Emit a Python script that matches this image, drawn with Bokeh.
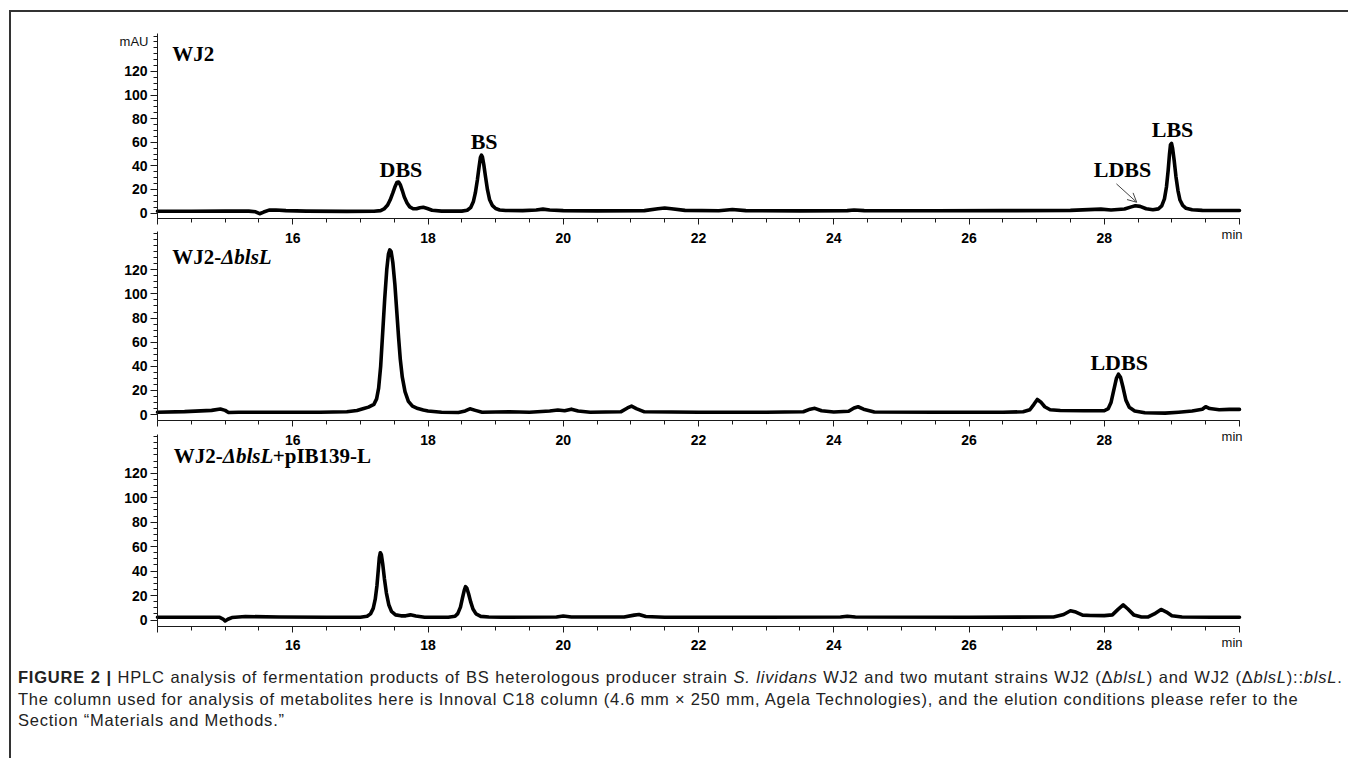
from bokeh.plotting import figure
from bokeh.models import Range1d, LinearAxis, FixedTicker, Label, Arrow, OpenHead, Div, ColumnDataSource
from bokeh.layouts import column
from bokeh.embed import file_html
from bokeh.resources import INLINE

# ---------------- data (time in min, signal in mAU) -------------
wj2_t = [14.00, 14.50, 15.00, 15.35, 15.45, 15.51, 15.57, 15.65, 15.75, 15.90, 16.20, 16.80, 17.20,
         17.30, 17.35, 17.40, 17.44, 17.48, 17.51, 17.54, 17.565, 17.59, 17.62,
         17.65, 17.69, 17.73, 17.78, 17.83, 17.88, 17.93, 17.99, 18.06, 18.20,
         18.50, 18.58, 18.63, 18.67, 18.70, 18.73, 18.755, 18.775, 18.79, 18.805,
         18.825, 18.85, 18.88, 18.91, 18.95, 19.00, 19.06, 19.15,
         19.40, 19.60, 19.70, 19.80, 20.00, 20.50, 21.20, 21.40, 21.50, 21.60,
         21.80, 22.30, 22.50, 22.70, 23.50, 24.20, 24.30, 24.45, 25.50, 26.50,
         27.50, 27.95, 28.10, 28.30, 28.40, 28.46, 28.53, 28.62, 28.72, 28.80,
         28.85, 28.89, 28.92, 28.945, 28.965, 28.98, 28.995, 29.01, 29.035, 29.06,
         29.09, 29.12, 29.16, 29.21, 29.30, 29.45, 30.00]
wj2_mau = [1.5, 1.5, 1.6, 1.6, 1.0, -0.6, 0.8, 2.4, 2.6, 2.0, 1.6, 1.4, 1.5,
           2.0, 3.4, 6.5, 11.0, 17.0, 22.0, 25.8, 26.3, 24.0, 19.0,
           13.5, 8.5, 5.2, 3.6, 3.6, 4.5, 4.9, 3.8, 2.3, 1.6,
           1.6, 2.3, 4.5, 9.5, 17.0, 28.0, 39.0, 47.0, 49.0, 47.5,
           41.0, 31.0, 19.5, 11.5, 6.5, 3.8, 2.6, 2.1,
           2.0, 2.5, 3.3, 2.6, 2.0, 1.8, 2.0, 3.6, 4.3, 3.6,
           2.2, 1.9, 2.9, 2.0, 1.8, 2.0, 2.6, 2.0, 1.9, 2.0,
           2.2, 3.3, 2.6, 3.4, 5.2, 6.2, 5.6, 3.6, 2.7, 3.5,
           6.0, 12.0, 22.0, 36.0, 50.0, 58.0, 59.0, 55.0, 44.0, 31.0,
           19.0, 11.0, 6.5, 4.0, 2.7, 2.2, 2.1]

dbl_t = [14.00, 14.40, 14.80, 14.93, 15.00, 15.05, 15.20, 15.80, 16.40, 16.80, 16.95, 17.05,
         17.12, 17.20, 17.24, 17.27, 17.30, 17.33, 17.36, 17.39, 17.415, 17.435, 17.455, 17.48,
         17.51, 17.54, 17.565, 17.59, 17.62, 17.66, 17.71, 17.77, 17.85, 17.93, 18.00, 18.20,
         18.45, 18.55, 18.62, 18.70, 18.80, 19.20, 19.50, 19.80, 19.92, 20.02, 20.12, 20.22,
         20.40, 20.85, 20.95, 21.01, 21.08, 21.20, 22.00, 23.00, 23.55, 23.65, 23.72, 23.82,
         24.00, 24.22, 24.30, 24.36, 24.44, 24.60, 25.50, 26.50, 26.80, 26.90, 26.96, 27.01,
         27.06, 27.12, 27.20, 27.35, 27.70, 28.00, 28.06, 28.10, 28.14, 28.18, 28.21, 28.24,
         28.28, 28.32, 28.37, 28.45, 28.60, 28.90, 29.10, 29.30, 29.45, 29.50, 29.56, 29.70,
         29.85, 30.00]
dbl_mau = [2.0, 2.5, 3.5, 4.6, 3.5, 1.8, 2.0, 2.0, 2.0, 2.3, 3.4, 5.0,
           6.2, 8.5, 13.0, 22.0, 40.0, 68.0, 96.0, 120.0, 133.0, 136.5, 135.0, 126.0,
           108.0, 84.0, 64.0, 46.0, 31.0, 19.0, 11.0, 7.0, 5.0, 3.8, 3.0, 2.0,
           1.8, 3.0, 4.8, 3.5, 2.0, 2.3, 2.0, 3.0, 3.8, 3.2, 4.5, 3.0,
           2.0, 2.3, 5.5, 7.0, 5.0, 2.3, 2.0, 2.0, 2.4, 4.5, 5.2, 3.2,
           2.2, 2.8, 5.5, 6.5, 4.5, 2.2, 2.0, 2.0, 2.3, 4.0, 8.5, 12.5,
           10.5, 6.5, 4.0, 3.4, 3.2, 3.2, 5.0, 10.0, 20.0, 30.0, 33.5, 31.0,
           22.0, 12.0, 6.0, 3.0, 1.5, 1.2, 2.0, 3.0, 4.5, 6.5, 5.0, 4.0,
           4.3, 4.3]

comp_t = [14.00, 14.60, 14.92, 14.97, 15.00, 15.04, 15.10, 15.30, 15.80, 16.50, 17.00,
          17.10, 17.15, 17.19, 17.22, 17.245, 17.265, 17.28, 17.295, 17.31, 17.33,
          17.355, 17.385, 17.42, 17.46, 17.52, 17.60,
          17.67, 17.74, 17.82, 17.95, 18.30,
          18.40, 18.44, 18.48, 18.51, 18.535, 18.555, 18.575, 18.60, 18.63, 18.665, 18.71, 18.78,
          18.90, 19.10, 19.90, 20.00, 20.12, 20.90, 21.05, 21.12, 21.22, 21.50,
          23.00, 24.10, 24.20, 24.32, 26.00, 27.25, 27.40, 27.50, 27.58, 27.68,
          27.80, 28.00, 28.12, 28.20, 28.28, 28.35, 28.44, 28.55, 28.65, 28.74,
          28.84, 28.92, 29.00, 29.15, 29.60, 30.00]
comp_mau = [2.3, 2.3, 2.2, 0.8, -0.8, 0.6, 2.0, 2.8, 2.5, 2.3, 2.3,
            3.0, 5.0, 9.5, 17.0, 28.0, 41.0, 51.0, 55.0, 53.5, 46.0,
            34.0, 22.0, 12.5, 7.0, 4.2, 3.4,
            3.4, 4.2, 3.2, 2.3, 2.2,
            3.0, 5.2, 10.5, 18.0, 24.0, 27.3, 26.0, 21.5, 15.0, 9.0, 5.0, 3.0,
            2.5, 2.2, 2.4, 3.2, 2.4, 2.4, 4.0, 4.5, 2.8, 2.2,
            2.3, 2.4, 3.0, 2.4, 2.3, 2.4, 4.5, 7.6, 6.5, 4.0,
            3.7, 3.6, 4.2, 8.5, 12.4, 9.0, 4.0, 2.4, 2.5, 5.0,
            8.6, 6.5, 3.5, 2.4, 2.2, 2.3]

x_major_ticks = [14, 16, 18, 20, 22, 24, 26, 28, 30]
x_tick_labels = {14: "", 16: "16", 18: "18", 20: "20", 22: "22", 24: "24", 26: "26", 28: "28", 30: ""}
y_major_ticks = [0, 20, 40, 60, 80, 100, 120]

# peak annotations: (text, time, mAU)
wj2_peaks = [("DBS", 17.60, 37.1), ("BS", 18.83, 60.6), ("LDBS", 28.27, 36.9), ("LBS", 29.01, 71.0)]
dbl_peaks = [("LDBS", 28.22, 43.5)]

# ---------------- geometry (page pixels) ----------------
W, H = 1336, 650
PAGE_X0, PAGE_Y0 = 11, 12
X14_PX, X30_PX = 157, 1239
ppm = (X30_PX - X14_PX) / 16.0
x_start = 14 - (X14_PX - PAGE_X0) / ppm
x_end = 30 + (PAGE_X0 + W - X30_PX) / ppm

panels = [
    dict(name="p1", t=wj2_t, v=wj2_mau, zero=212.5, scale=1.18,
         label=[("WJ2", "bold", 0)], label_xy=(14.217, 134.4), peaks=wj2_peaks, mau=True),
    dict(name="p2", t=dbl_t, v=dbl_mau, zero=414.1, scale=1.207,
         label=[("WJ2-", "bold", 0), ("\u0394blsL", "bold italic", 49)], label_xy=(14.217, 130.7),
         peaks=dbl_peaks, mau=False),
    dict(name="p3", t=comp_t, v=comp_mau, zero=619.5, scale=1.223,
         label=[("WJ2-", "bold", 0), ("\u0394blsL", "bold italic", 49), ("+pIB139-L", "bold", 99)],
         label_xy=(14.24, 133.7), peaks=[], mau=False),
]

def yr(pn):
    s = pn["scale"]
    return Range1d(-(PAGE_Y0 + H - pn["zero"]) / s, (pn["zero"] - PAGE_Y0) / s)

p = figure(width=W, height=H, x_range=Range1d(x_start, x_end), y_range=yr(panels[2]),
           output_backend="svg", toolbar_location=None, title=None,
           x_axis_type=None, y_axis_type=None, min_border=0,
           min_border_left=0, min_border_right=0, min_border_top=0, min_border_bottom=0)
p.outline_line_color = None
p.grid.visible = False
p.background_fill_color = "white"
p.border_fill_color = "white"
p.extra_y_ranges = {"p1": yr(panels[0]), "p2": yr(panels[1])}

SERIF = "Liberation Serif"
SANS = "Liberation Sans"
AX = "#1a1a1a"

for pn in panels:
    rn = pn["name"] if pn["name"] != "p3" else "default"
    src = ColumnDataSource(dict(t=pn["t"], v=pn["v"]))
    p.line("t", "v", source=src, y_range_name=rn, line_color="black", line_width=3.6,
           line_join="round", line_cap="round")

    ya = LinearAxis(y_range_name=rn, fixed_location=14, bounds=(-5, 152),
                    ticker=FixedTicker(ticks=y_major_ticks, minor_ticks=list(range(0, 151, 5))))
    ya.axis_line_color = AX
    ya.major_tick_line_color = AX
    ya.minor_tick_line_color = AX
    ya.major_tick_out, ya.major_tick_in = 7, 0
    ya.minor_tick_out, ya.minor_tick_in = 4, 0
    ya.major_label_standoff = 3
    ya.major_label_text_font = SANS
    ya.major_label_text_font_style = "bold"
    ya.major_label_text_font_size = "14px"
    ya.major_label_text_color = "black"
    p.add_layout(ya, "left")

    xa = LinearAxis(y_range_name=rn, fixed_location=-5, bounds=(14, 30),
                    ticker=FixedTicker(ticks=x_major_ticks,
                                       minor_ticks=[14 + 0.5 * i for i in range(33)]),
                    major_label_overrides=x_tick_labels)
    xa.axis_line_color = AX
    xa.major_tick_line_color = AX
    xa.minor_tick_line_color = AX
    xa.major_tick_out, xa.major_tick_in = 6, 0
    xa.minor_tick_out, xa.minor_tick_in = 4, 0
    xa.major_label_standoff = 8
    xa.major_label_text_font = SANS
    xa.major_label_text_font_style = "bold"
    xa.major_label_text_font_size = "14px"
    xa.major_label_text_color = "black"
    p.add_layout(xa, "below")

    p.add_layout(Label(x=29.89, y=-18, y_range_name=rn, text="min", text_font=SANS,
                       text_font_size="13px", text_align="center", text_baseline="middle",
                       text_color="#111"))

    lx, ly = pn["label_xy"]
    for txt, style, off in pn["label"]:
        p.add_layout(Label(x=lx, y=ly, x_offset=off, y_range_name=rn, text=txt, text_font=SERIF,
                           text_font_style=style, text_font_size="21px", text_color="black",
                           text_align="left", text_baseline="alphabetic"))
    for txt, tx, ty in pn["peaks"]:
        p.add_layout(Label(x=tx, y=ty, y_range_name=rn, text=txt, text_font=SERIF,
                           text_font_style="bold", text_font_size="22px", text_color="black",
                           text_align="center", text_baseline="alphabetic"))
    if pn["mau"]:
        p.add_layout(Label(x=14, y=145, x_offset=-9, y_range_name=rn, text="mAU", text_font=SANS,
                           text_font_size="13px", text_align="right", text_baseline="middle",
                           text_color="#111"))
        p.add_layout(Arrow(x_start=28.18, y_start=24.7, x_end=28.48, y_end=9.1, y_range_name=rn,
                           line_color="#444", line_width=1,
                           end=OpenHead(size=9, line_color="#444", line_width=1)))

caption = (
    '<div style="font-family: \'Liberation Sans\', sans-serif; '
    'font-size: 16.5px; letter-spacing: 0.77px; line-height: 21.5px; color: #222; '
    'padding-left: 2px; padding-top: 0px; white-space: nowrap;">'
    '<span style="word-spacing: 0.4px;"><b>FIGURE 2 |</b> HPLC analysis of fermentation products '
    'of BS heterologous producer strain '
    '<i>S. lividans</i> WJ2 and two mutant strains WJ2 (\u0394<i>blsL</i>) and WJ2 '
    '(\u0394<i>blsL</i>)::<i>blsL</i>.</span><br>'
    'The column used for analysis of metabolites here is Innoval C18 column (4.6 mm \u00d7 250 mm, '
    'Agela Technologies), and the elution conditions please refer to the<br>'
    'Section \u201cMaterials and Methods.\u201d</div>'
)
div = Div(text=caption, width=W, height=92)

layout = column(p, div, spacing=0,
                styles={"border-top": "2px solid #333", "border-left": "2px solid #333",
                        "margin-left": "9px", "margin-top": "10px"})

open("out.html", "w").write(file_html(layout, INLINE))
